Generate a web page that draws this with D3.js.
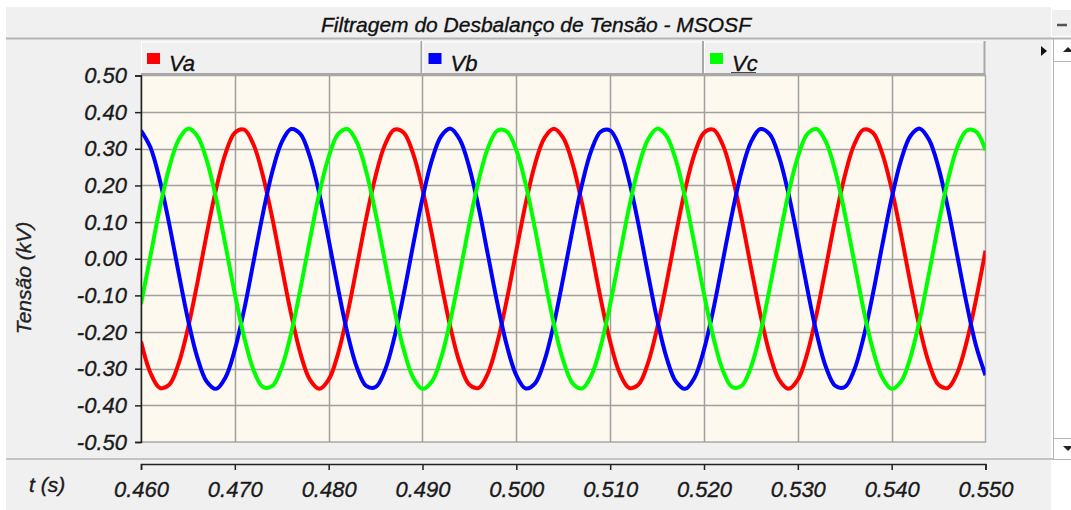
<!DOCTYPE html>
<html>
<head>
<meta charset="utf-8">
<script src="https://cdn.jsdelivr.net/npm/d3@7"></script>
<style>
  body { margin: 0; background: #fff; }
  svg { display: block; font-family: "Liberation Sans", Arial, sans-serif; font-style: italic; }
  svg text { stroke-width: 0.35px; }
</style>
</head>
<body>
<div id="chart"></div>
<script>
const width = 1071;
const height = 510;

const chartTitle = "Filtragem do Desbalanço de Tensão - MSOSF";
const yLabel = "Tensão (kV)";
const xLabel = "t (s)";
const seriesNames = ["Va", "Vb", "Vc"];
const seriesColors = ["#ff0000", "#0000ff", "#00ff00"];

const xTicks = [0.46, 0.47, 0.48, 0.49, 0.50, 0.51, 0.52, 0.53, 0.54, 0.55];
const yTicks = [-0.5, -0.4, -0.3, -0.2, -0.1, 0, 0.1, 0.2, 0.3, 0.4, 0.5];

// samples every 1 ms from 0.460 s to 0.550 s (kV)
const time = d3.range(91).map(i => +(0.46 + i * 0.001).toFixed(3));

const va = [
  -0.226,-0.311,-0.352,-0.344,-0.287,-0.190,-0.067,0.067,0.190,0.287,
  0.344,0.352,0.311,0.226,0.110,-0.022,-0.151,-0.259,-0.330,-0.355,
  -0.330,-0.259,-0.151,-0.022,0.110,0.226,0.311,0.352,0.344,0.287,
  0.190,0.067,-0.067,-0.190,-0.287,-0.344,-0.352,-0.311,-0.226,-0.110,
  0.022,0.151,0.259,0.330,0.355,0.330,0.259,0.151,0.022,-0.110,
  -0.226,-0.311,-0.352,-0.344,-0.287,-0.190,-0.067,0.067,0.190,0.287,
  0.344,0.352,0.311,0.226,0.110,-0.022,-0.151,-0.259,-0.330,-0.355,
  -0.330,-0.259,-0.151,-0.022,0.110,0.226,0.311,0.352,0.344,0.287,
  0.190,0.067,-0.067,-0.190,-0.287,-0.344,-0.352,-0.311,-0.226,-0.110,
  0.022
];

const vb = [
  0.350,0.304,0.215,0.096,-0.037,-0.165,-0.269,-0.335,-0.355,-0.324,
  -0.248,-0.138,-0.007,0.124,0.238,0.318,0.354,0.340,0.278,0.178,
  0.052,-0.081,-0.203,-0.296,-0.347,-0.350,-0.304,-0.215,-0.096,0.037,
  0.165,0.269,0.335,0.355,0.324,0.248,0.138,0.007,-0.124,-0.238,
  -0.318,-0.354,-0.340,-0.278,-0.178,-0.052,0.081,0.203,0.296,0.347,
  0.350,0.304,0.215,0.096,-0.037,-0.165,-0.269,-0.335,-0.355,-0.324,
  -0.248,-0.138,-0.007,0.124,0.238,0.318,0.354,0.340,0.278,0.178,
  0.052,-0.081,-0.203,-0.296,-0.347,-0.350,-0.304,-0.215,-0.096,0.037,
  0.165,0.269,0.335,0.355,0.324,0.248,0.138,0.007,-0.124,-0.238,
  -0.318
];

const vc = [
  -0.124,0.007,0.138,0.248,0.324,0.355,0.335,0.269,0.165,0.037,
  -0.096,-0.215,-0.304,-0.350,-0.347,-0.296,-0.203,-0.081,0.052,0.178,
  0.278,0.340,0.354,0.318,0.238,0.124,-0.007,-0.138,-0.248,-0.324,
  -0.355,-0.335,-0.269,-0.165,-0.037,0.096,0.215,0.304,0.350,0.347,
  0.296,0.203,0.081,-0.052,-0.178,-0.278,-0.340,-0.354,-0.318,-0.238,
  -0.124,0.007,0.138,0.248,0.324,0.355,0.335,0.269,0.165,0.037,
  -0.096,-0.215,-0.304,-0.350,-0.347,-0.296,-0.203,-0.081,0.052,0.178,
  0.278,0.340,0.354,0.318,0.238,0.124,-0.007,-0.138,-0.248,-0.324,
  -0.355,-0.335,-0.269,-0.165,-0.037,0.096,0.215,0.304,0.350,0.347,
  0.296
];

const seriesValues = [va, vb, vc];

// plot box
const plot = { left: 141, right: 985.5, top: 75.5, bottom: 442 };

// plain hyphen instead of the unicode minus d3.format puts in
const fmt = f => d => d3.format(f)(d).replace("\u2212", "-");

const svg = d3.select("#chart").append("svg")
    .attr("width", width)
    .attr("height", height);

// window panel
svg.append("rect").attr("width", width).attr("height", height).attr("fill", "#fff");
svg.append("rect")
    .attr("x", 6).attr("y", 7)
    .attr("width", 1045).attr("height", height - 7)
    .attr("fill", "#f0f0f0");

// title bar
svg.append("text")
    .attr("x", 536).attr("y", 32)
    .attr("text-anchor", "middle")
    .attr("font-size", 21)
    .attr("fill", "#111").attr("stroke", "#111")
    .text(chartTitle);

svg.append("line")
    .attr("x1", 6).attr("x2", width)
    .attr("y1", 38.5).attr("y2", 38.5)
    .attr("stroke", "#b4b4b4").attr("stroke-width", 2);

// minimize button
svg.append("rect")
    .attr("x", 1052).attr("y", 10).attr("width", 19).attr("height", 26)
    .attr("fill", "#f0f0f0");
svg.append("line")
    .attr("x1", 1057).attr("x2", 1067).attr("y1", 25).attr("y2", 25)
    .attr("stroke", "#555").attr("stroke-width", 2.5);

// legend strip
const legendX = d3.scaleLinear().domain([0, 3]).range([plot.left, plot.right]);
const legend = svg.selectAll(".legend-cell")
    .data(seriesNames)
    .enter().append("g")
    .attr("class", "legend-cell")
    .attr("transform", (d, i) => `translate(${legendX(i)},41)`);

legend.append("rect")
    .attr("width", (d, i) => legendX(i + 1) - legendX(i))
    .attr("height", 33)
    .attr("fill", "#f0f0f0");
legend.append("line")
    .attr("x1", 0.5).attr("x2", 0.5).attr("y1", 0).attr("y2", 33)
    .attr("stroke", "#fff");
legend.append("line")
    .attr("x1", 0).attr("x2", (d, i) => legendX(i + 1) - legendX(i))
    .attr("y1", 1).attr("y2", 1)
    .attr("stroke", "#fff");
legend.append("line")
    .attr("x1", (d, i) => legendX(i + 1) - legendX(i) - 1)
    .attr("x2", (d, i) => legendX(i + 1) - legendX(i) - 1)
    .attr("y1", 0).attr("y2", 33)
    .attr("stroke", "#a8a8a8").attr("stroke-width", 2);
legend.append("rect")
    .attr("x", 6).attr("y", 12).attr("width", 13).attr("height", 11)
    .attr("fill", (d, i) => seriesColors[i]);
const legendText = legend.append("text")
    .attr("x", 28).attr("y", 30)
    .attr("font-size", 22)
    .attr("fill", "#111").attr("stroke", "#111")
    .text(d => d);

// the last entry is underlined (selected)
legend.filter((d, i) => i === 2)
    .append("line")
    .attr("x1", 27).attr("x2", 52)
    .attr("y1", 32).attr("y2", 32)
    .attr("stroke", "#111").attr("stroke-width", 1.5);

svg.append("line")
    .attr("x1", plot.left).attr("x2", plot.right)
    .attr("y1", 74).attr("y2", 74)
    .attr("stroke", "#a8a8a8").attr("stroke-width", 2);

// small arrow marker next to legend
svg.append("path")
    .attr("d", "M1041,46 L1047,51 L1041,56 Z")
    .attr("fill", "#111");

// scrollbar
svg.append("line")
    .attr("x1", 1053.5).attr("x2", 1053.5).attr("y1", 39).attr("y2", 460)
    .attr("stroke", "#b4b4b4");
svg.append("line")
    .attr("x1", 1054).attr("x2", width).attr("y1", 61.5).attr("y2", 61.5)
    .attr("stroke", "#b4b4b4");
svg.append("line")
    .attr("x1", 1054).attr("x2", width).attr("y1", 438.5).attr("y2", 438.5)
    .attr("stroke", "#b4b4b4");
svg.append("line")
    .attr("x1", 1053).attr("x2", width).attr("y1", 459.5).attr("y2", 459.5)
    .attr("stroke", "#b4b4b4");
svg.append("path").attr("d", "M1063,52 L1068,47 L1073,52 Z").attr("fill", "#222");
svg.append("path").attr("d", "M1063,446 L1068,451 L1073,446 Z").attr("fill", "#222");

// scales
const x = d3.scaleLinear().domain([0.46, 0.55]).range([plot.left, plot.right]);
const y = d3.scaleLinear().domain([-0.5, 0.5]).range([plot.bottom, plot.top]);

// plot background
svg.append("rect")
    .attr("x", plot.left).attr("y", plot.top)
    .attr("width", plot.right - plot.left)
    .attr("height", plot.bottom - plot.top)
    .attr("fill", "#fdf9ee")
    .attr("stroke", "#a8a8a8")
    .attr("stroke-width", 1.5);

// grid
svg.append("g")
    .selectAll("line")
    .data(yTicks.slice(1, -1))
    .enter().append("line")
    .attr("x1", plot.left).attr("x2", plot.right)
    .attr("y1", d => Math.round(y(d)) + 0.5).attr("y2", d => Math.round(y(d)) + 0.5)
    .attr("stroke", "#a0a0a0").attr("stroke-width", 1.5);

svg.append("g")
    .selectAll("line")
    .data(xTicks.slice(1, -1))
    .enter().append("line")
    .attr("x1", d => Math.round(x(d)) + 0.5).attr("x2", d => Math.round(x(d)) + 0.5)
    .attr("y1", plot.top).attr("y2", plot.bottom)
    .attr("stroke", "#a0a0a0").attr("stroke-width", 1.5);

// waveforms
svg.append("clipPath").attr("id", "plot-clip")
    .append("rect")
    .attr("x", plot.left).attr("y", plot.top)
    .attr("width", plot.right - plot.left)
    .attr("height", plot.bottom - plot.top);

const line = d3.line()
    .x((d, i) => x(time[i]))
    .y(d => y(d))
    .curve(d3.curveCatmullRom);

svg.append("g")
    .attr("clip-path", "url(#plot-clip)")
    .selectAll("path")
    .data(seriesValues)
    .enter().append("path")
    .attr("d", d => line(d))
    .attr("fill", "none")
    .attr("stroke", (d, i) => seriesColors[i])
    .attr("stroke-width", 4)
    .attr("stroke-linejoin", "round");

// y axis
const yAxis = svg.append("g")
    .attr("transform", `translate(${plot.left},0)`)
    .call(d3.axisLeft(y).tickValues(yTicks).tickFormat(fmt(".2f")).tickSize(6).tickPadding(8));

yAxis.attr("font-family", null).attr("font-size", null);
yAxis.select(".domain").attr("stroke", "#222").attr("stroke-width", 1.5);
yAxis.selectAll(".tick line").attr("stroke", "#222").attr("stroke-width", 1.5);
yAxis.selectAll(".tick text")
    .attr("font-size", 22)
    .attr("fill", "#1a1a1a").attr("stroke", "#1a1a1a");

svg.append("text")
    .attr("transform", "translate(31,278) rotate(-90)")
    .attr("text-anchor", "middle")
    .attr("font-size", 21)
    .attr("fill", "#222").attr("stroke", "#222")
    .text(yLabel);

// bottom separator and x axis
svg.append("line")
    .attr("x1", 6).attr("x2", 1053)
    .attr("y1", 459).attr("y2", 459)
    .attr("stroke", "#c4c4c4").attr("stroke-width", 2);

const xAxis = svg.append("g")
    .attr("transform", "translate(0,464)")
    .call(d3.axisBottom(x).tickValues(xTicks).tickFormat(fmt(".3f")).tickSize(6).tickPadding(11));

xAxis.attr("font-family", null).attr("font-size", null);
xAxis.select(".domain").attr("stroke", "#222").attr("stroke-width", 1.5);
xAxis.selectAll(".tick line").attr("stroke", "#222").attr("stroke-width", 1.5);
xAxis.selectAll(".tick text")
    .attr("font-size", 22)
    .attr("fill", "#1a1a1a").attr("stroke", "#1a1a1a");

svg.append("text")
    .attr("x", 29).attr("y", 492)
    .attr("font-size", 21)
    .attr("fill", "#1a1a1a").attr("stroke", "#1a1a1a")
    .text(xLabel);
</script>
</body>
</html>
